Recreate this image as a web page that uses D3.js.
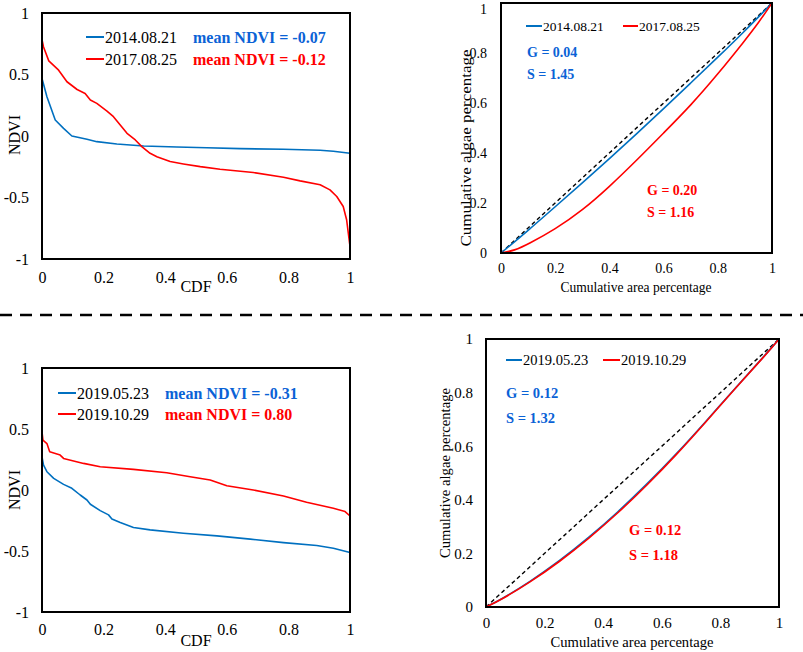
<!DOCTYPE html>
<html>
<head>
<meta charset="utf-8">
<script src="https://cdn.jsdelivr.net/npm/d3@7"></script>
<style>
  body { margin: 0; background: #fff; }
  svg text { font-family: "Liberation Serif", "Times New Roman", Times, "DejaVu Serif", serif; }
</style>
</head>
<body>
<svg id="fig" width="803" height="652"></svg>
<script>
// ---- data ----
var cdfTicksX = [0, 0.2, 0.4, 0.6, 0.8, 1];
var ndviTicks = [-1, -0.5, 0, 0.5, 1];
var lorenzTicks = [0, 0.2, 0.4, 0.6, 0.8, 1];

// top-left CDF curves [cdf, ndvi]
var cdf2014 = [[0,0.468],[0.016,0.319],[0.043,0.13],[0.07,0.062],[0.097,0.0],[0.146,-0.027],[0.178,-0.046],
  [0.243,-0.065],[0.33,-0.081],[0.438,-0.089],[0.535,-0.095],[0.643,-0.103],[0.784,-0.108],[0.903,-0.116],
  [0.946,-0.124],[1,-0.14]];
var cdf2017 = [[0,0.784],[0.005,0.724],[0.022,0.611],[0.054,0.535],[0.081,0.441],[0.114,0.378],[0.14,0.346],
  [0.157,0.292],[0.178,0.265],[0.211,0.203],[0.232,0.157],[0.254,0.089],[0.276,0.022],[0.303,-0.032],
  [0.324,-0.086],[0.351,-0.141],[0.373,-0.168],[0.416,-0.208],[0.459,-0.227],[0.514,-0.249],[0.578,-0.27],
  [0.686,-0.297],[0.784,-0.335],[0.838,-0.365],[0.903,-0.397],[0.935,-0.438],[0.957,-0.492],[0.978,-0.573],
  [0.989,-0.681],[1,-0.897]];

// bottom-left CDF curves
var cdf2019a = [[0,0.272],[0.005,0.204],[0.016,0.15],[0.038,0.095],[0.07,0.046],[0.097,0.014],[0.124,-0.041],
  [0.146,-0.082],[0.157,-0.117],[0.189,-0.169],[0.216,-0.204],[0.227,-0.237],[0.254,-0.267],[0.297,-0.308],
  [0.351,-0.327],[0.459,-0.354],[0.568,-0.376],[0.676,-0.403],[0.784,-0.431],[0.892,-0.455],[0.946,-0.477],
  [1,-0.512]];
var cdf2019b = [[0,0.477],[0.003,0.409],[0.016,0.381],[0.025,0.313],[0.059,0.286],[0.07,0.259],[0.135,0.218],
  [0.189,0.191],[0.297,0.169],[0.405,0.142],[0.481,0.109],[0.546,0.082],[0.6,0.035],[0.686,0.0],
  [0.784,-0.049],[0.859,-0.101],[0.946,-0.15],[0.984,-0.177],[1,-0.213]];

// top-right Lorenz curves [area, algae]
var lor2014 = [[0,0],[0.1,0.09],[0.2,0.185],[0.3,0.28],[0.4,0.377],[0.5,0.476],[0.6,0.577],[0.7,0.68],
  [0.8,0.783],[0.9,0.888],[1,1]];
var lor2017 = [[0,0],[0.05,0.01],[0.1,0.035],[0.2,0.095],[0.3,0.17],[0.4,0.265],[0.5,0.37],[0.6,0.48],
  [0.7,0.59],[0.8,0.715],[0.9,0.85],[0.95,0.92],[1,1]];

// bottom-right Lorenz curves
var lor2019a = [[0,0],[0.05,0.027],[0.15,0.094],[0.25,0.171],[0.35,0.258],[0.45,0.354],[0.55,0.459],
  [0.65,0.571],[0.75,0.692],[0.85,0.816],[0.95,0.936],[1,1]];
var lor2019b = [[0,0],[0.05,0.026],[0.15,0.092],[0.25,0.168],[0.35,0.255],[0.45,0.35],[0.55,0.455],
  [0.65,0.568],[0.75,0.69],[0.85,0.815],[0.95,0.935],[1,1]];
var diagonal = [[0,0],[1,1]];

var BLUE = "#0070C0", RED = "#FF0000", BLUE_TXT = "#0a62d6";
var SERIF = "Liberation Serif, Times New Roman, serif";

var svg = d3.select("#fig");

function fmt(d){ return String(d); }

function drawPanel(p){
    var x = d3.scaleLinear().domain(p.xDom).range([p.x0, p.x1]);
    var y = d3.scaleLinear().domain(p.yDom).range([p.y1, p.y0]);
    var g = svg.append("g").attr("font-family", SERIF);

    var ax = g.append("g")
        .attr("transform", "translate(0," + p.y1 + ")")
        .call(d3.axisBottom(x).tickValues(p.xTicks).tickSize(0).tickPadding(p.xPad).tickFormat(fmt));
    var ay = g.append("g")
        .attr("transform", "translate(" + p.x0 + ",0)")
        .call(d3.axisLeft(y).tickValues(p.yTicks).tickSize(0).tickPadding(p.yPad).tickFormat(fmt));
    [ax, ay].forEach(a => {
        a.attr("font-family", SERIF);
        a.select(".domain").remove();
        a.selectAll("text").attr("font-size", p.tickFont).attr("fill", "#000");
    });
    // keep the top label inside the picture
    if(p.topNudge) ay.selectAll(".tick text").filter(d => d === p.yDom[1]).attr("dy", p.topNudge);

    var line = d3.line().x(d => x(d[0])).y(d => y(d[1])).curve(p.curve || d3.curveLinear);

    if(p.diag){
        g.append("path").attr("d", d3.line().x(d => x(d[0])).y(d => y(d[1]))(diagonal)).attr("fill", "none")
            .attr("stroke", "#000").attr("stroke-width", 1.4).attr("stroke-dasharray", "4,3");
    }
    p.series.forEach(s => {
        g.append("path").attr("d", line(s.data)).attr("fill", "none")
            .attr("stroke", s.color).attr("stroke-width", 1.6).attr("stroke-linejoin", "round");
    });

    g.append("rect").attr("x", p.x0).attr("y", p.y0)
        .attr("width", p.x1 - p.x0).attr("height", p.y1 - p.y0)
        .attr("fill", "none").attr("stroke", "#000").attr("stroke-width", 2);

    // legend
    p.legend.forEach(l => {
        g.append("line").attr("x1", l.lx0).attr("x2", l.lx1).attr("y1", l.y).attr("y2", l.y)
            .attr("stroke", l.color).attr("stroke-width", 2);
        g.append("text").attr("x", l.lx1 + 1).attr("y", l.y).attr("dy", "0.35em")
            .attr("font-size", p.legFont).text(l.label);
    });
    p.notes.forEach(n => {
        g.append("text").attr("x", n.x).attr("y", n.y).attr("dy", "0.35em")
            .attr("font-size", p.noteFont).attr("font-weight", "bold").attr("fill", n.color).text(n.text);
    });

    // axis titles
    var xt = g.append("text").attr("x", p.xTitle[0]).attr("y", p.xTitle[1]).attr("dy", "0.35em")
        .attr("text-anchor", "middle")
        .attr("font-size", p.titleFont).text(p.xLabel);
    if(p.xTitle[2]) xt.attr("textLength", p.xTitle[2]).attr("lengthAdjust", "spacingAndGlyphs");
    var yt = g.append("text")
        .attr("transform", "translate(" + p.yTitle[0] + "," + p.yTitle[1] + ") rotate(-90)")
        .attr("text-anchor", "middle").attr("dy", "0.35em")
        .attr("font-size", p.titleFont).text(p.yLabel);
    if(p.yTitle[2]) yt.attr("textLength", p.yTitle[2]).attr("lengthAdjust", "spacingAndGlyphs");
}

// top-left
drawPanel({
    x0: 42, x1: 350, y0: 13, y1: 259, xDom: [0,1], yDom: [-1,1],
    xTicks: cdfTicksX, yTicks: ndviTicks, xPad: 13, yPad: 13, tickFont: 16,
    series: [{data: cdf2014, color: BLUE}, {data: cdf2017, color: RED}],
    legFont: 16, noteFont: 16, titleFont: 16,
    legend: [{lx0: 86, lx1: 104, y: 37, color: BLUE, label: "2014.08.21"},
             {lx0: 86, lx1: 104, y: 59, color: RED, label: "2017.08.25"}],
    notes: [{x: 193, y: 37, color: BLUE_TXT, text: "mean NDVI = -0.07"},
            {x: 193, y: 59, color: RED, text: "mean NDVI = -0.12"}],
    xLabel: "CDF", xTitle: [196, 286], yLabel: "NDVI", yTitle: [14, 135]
});

// top-right
drawPanel({
    x0: 501, x1: 772, y0: 3, y1: 253, xDom: [0,1], yDom: [0,1],
    xTicks: lorenzTicks, yTicks: lorenzTicks, xPad: 10, yPad: 14, tickFont: 14,
    series: [{data: lor2014, color: BLUE}, {data: lor2017, color: RED}],
    curve: d3.curveBasis, diag: true, topNudge: "0.75em",
    legFont: 13.5, noteFont: 14, titleFont: 14,
    legend: [{lx0: 526, lx1: 542, y: 26, color: BLUE, label: "2014.08.21"},
             {lx0: 623, lx1: 638, y: 26, color: RED, label: "2017.08.25"}],
    notes: [{x: 527, y: 52, color: BLUE_TXT, text: "G = 0.04"},
            {x: 527, y: 74, color: BLUE_TXT, text: "S = 1.45"},
            {x: 647, y: 190, color: RED, text: "G = 0.20"},
            {x: 647, y: 212, color: RED, text: "S = 1.16"}],
    xLabel: "Cumulative area percentage", xTitle: [636, 287, 151],
    yLabel: "Cumulative algae percentage", yTitle: [466, 148, 197]
});

// bottom-left
drawPanel({
    x0: 42, x1: 350, y0: 368, y1: 612, xDom: [0,1], yDom: [-1,1],
    xTicks: cdfTicksX, yTicks: ndviTicks, xPad: 12, yPad: 13, tickFont: 16,
    series: [{data: cdf2019a, color: BLUE}, {data: cdf2019b, color: RED}],
    legFont: 16, noteFont: 16, titleFont: 16,
    legend: [{lx0: 58, lx1: 76, y: 393, color: BLUE, label: "2019.05.23"},
             {lx0: 58, lx1: 76, y: 414, color: RED, label: "2019.10.29"}],
    notes: [{x: 165, y: 393, color: BLUE_TXT, text: "mean NDVI = -0.31"},
            {x: 165, y: 414, color: RED, text: "mean NDVI = 0.80"}],
    xLabel: "CDF", xTitle: [196, 640], yLabel: "NDVI", yTitle: [14, 490]
});

// bottom-right
drawPanel({
    x0: 486, x1: 779, y0: 339, y1: 607, xDom: [0,1], yDom: [0,1],
    xTicks: lorenzTicks, yTicks: lorenzTicks, xPad: 10, yPad: 13, tickFont: 15,
    series: [{data: lor2019a, color: BLUE}, {data: lor2019b, color: RED}],
    curve: d3.curveBasis, diag: true,
    legFont: 14.5, noteFont: 14.5, titleFont: 15,
    legend: [{lx0: 506, lx1: 522, y: 360, color: BLUE, label: "2019.05.23"},
             {lx0: 603, lx1: 620, y: 360, color: RED, label: "2019.10.29"}],
    notes: [{x: 506, y: 393, color: BLUE_TXT, text: "G = 0.12"},
            {x: 506, y: 418, color: BLUE_TXT, text: "S = 1.32"},
            {x: 629, y: 530, color: RED, text: "G = 0.12"},
            {x: 629, y: 555, color: RED, text: "S = 1.18"}],
    xLabel: "Cumulative area percentage", xTitle: [632, 642, 163],
    yLabel: "Cumulative algae percentage", yTitle: [445, 473, 170]
});

// dashed separator
svg.append("line").attr("x1", 0).attr("x2", 803).attr("y1", 315).attr("y2", 315)
    .attr("stroke", "#000").attr("stroke-width", 2.5).attr("stroke-dasharray", "12,8");
</script>
</body>
</html>
